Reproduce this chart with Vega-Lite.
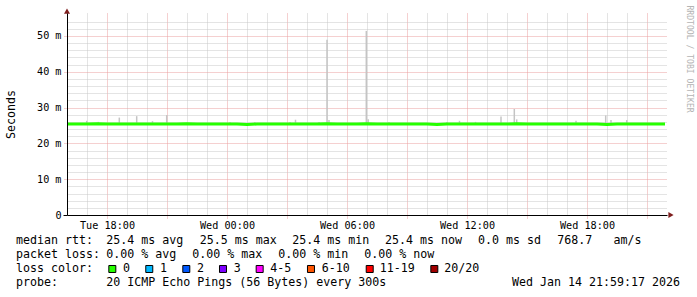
{
  "$schema": "https://vega.github.io/schema/vega-lite/v6.json",
  "width": 600,
  "height": 202,
  "autosize": {"type": "none"},
  "padding": {"left": 67, "top": 13, "right": 30, "bottom": 82},
  "background": "#ffffff",
  "config": {"view": {"stroke": null}, "axis": {"labelFont": "DejaVu Sans Mono", "titleFont": "DejaVu Sans Mono"}},
  "datasets": {
    "median": [
      {"t": 0, "ms": 25.4}, {"t": 0.5, "ms": 25.4}, {"t": 1, "ms": 25.4}, {"t": 1.5, "ms": 25.5}, {"t": 2, "ms": 25.4},
      {"t": 2.5, "ms": 25.4}, {"t": 3, "ms": 25.4}, {"t": 3.5, "ms": 25.4}, {"t": 4, "ms": 25.4}, {"t": 4.5, "ms": 25.4},
      {"t": 5, "ms": 25.4}, {"t": 5.5, "ms": 25.4}, {"t": 6, "ms": 25.5}, {"t": 6.5, "ms": 25.4}, {"t": 7, "ms": 25.4},
      {"t": 7.5, "ms": 25.4}, {"t": 8, "ms": 25.4}, {"t": 8.5, "ms": 25.4}, {"t": 9, "ms": 25.3}, {"t": 9.5, "ms": 25.4},
      {"t": 10, "ms": 25.4}, {"t": 10.5, "ms": 25.4}, {"t": 11, "ms": 25.4}, {"t": 11.5, "ms": 25.4}, {"t": 12, "ms": 25.4},
      {"t": 12.5, "ms": 25.4}, {"t": 13, "ms": 25.5}, {"t": 13.5, "ms": 25.4}, {"t": 14, "ms": 25.4}, {"t": 14.5, "ms": 25.4},
      {"t": 15, "ms": 25.5}, {"t": 15.5, "ms": 25.4}, {"t": 16, "ms": 25.4}, {"t": 16.5, "ms": 25.4}, {"t": 17, "ms": 25.4},
      {"t": 17.5, "ms": 25.4}, {"t": 18, "ms": 25.4}, {"t": 18.5, "ms": 25.3}, {"t": 19, "ms": 25.4}, {"t": 19.5, "ms": 25.4},
      {"t": 20, "ms": 25.4}, {"t": 20.5, "ms": 25.4}, {"t": 21, "ms": 25.4}, {"t": 21.5, "ms": 25.4}, {"t": 22, "ms": 25.4},
      {"t": 22.5, "ms": 25.5}, {"t": 23, "ms": 25.4}, {"t": 23.5, "ms": 25.4}, {"t": 24, "ms": 25.4}, {"t": 24.5, "ms": 25.4},
      {"t": 25, "ms": 25.4}, {"t": 25.5, "ms": 25.4}, {"t": 26, "ms": 25.4}, {"t": 26.5, "ms": 25.4}, {"t": 27, "ms": 25.3},
      {"t": 27.5, "ms": 25.4}, {"t": 28, "ms": 25.4}, {"t": 28.5, "ms": 25.4}, {"t": 29, "ms": 25.4}, {"t": 29.5, "ms": 25.4},
      {"t": 29.9, "ms": 25.4}
    ],
    "smoke": [
      {"t": 0.985, "lo": 25.4, "hi": 26.3}, {"t": 1.565, "lo": 25.4, "hi": 26.0}, {"t": 2.615, "lo": 25.4, "hi": 27.2},
      {"t": 3.485, "lo": 25.4, "hi": 27.6}, {"t": 4.275, "lo": 25.4, "hi": 26.2}, {"t": 4.985, "lo": 25.4, "hi": 27.9},
      {"t": 8.15, "lo": 25.4, "hi": 26.0}, {"t": 9.4, "lo": 25.4, "hi": 26.0}, {"t": 11.15, "lo": 25.4, "hi": 26.0},
      {"t": 11.425, "lo": 25.4, "hi": 26.6}, {"t": 12.6, "lo": 25.4, "hi": 26.0}, {"t": 13.0, "lo": 25.4, "hi": 48.9},
      {"t": 13.1, "lo": 25.4, "hi": 26.5}, {"t": 14.965, "lo": 25.4, "hi": 51.4}, {"t": 15.06, "lo": 25.4, "hi": 26.7},
      {"t": 16.1, "lo": 25.4, "hi": 26.0}, {"t": 19.0, "lo": 25.4, "hi": 26.0}, {"t": 19.625, "lo": 25.4, "hi": 26.3},
      {"t": 20.425, "lo": 25.4, "hi": 26.0}, {"t": 21.7, "lo": 25.4, "hi": 27.5}, {"t": 22.365, "lo": 25.4, "hi": 29.6},
      {"t": 22.485, "lo": 25.4, "hi": 26.7}, {"t": 25.45, "lo": 25.4, "hi": 26.3}, {"t": 26.935, "lo": 25.4, "hi": 27.8},
      {"t": 27.2, "lo": 25.4, "hi": 26.5}, {"t": 27.985, "lo": 25.4, "hi": 26.5}
    ],
    "legendText": [
      {"row": 0, "col": 0, "text": "median rtt:"},
      {"row": 0, "col": 12.9, "text": "25.4 ms avg"},
      {"row": 0, "col": 26.24, "text": "25.5 ms max"},
      {"row": 0, "col": 39.47, "text": "25.4 ms min"},
      {"row": 0, "col": 52.71, "text": "25.4 ms now"},
      {"row": 0, "col": 66.0, "text": "0.0 ms sd"},
      {"row": 0, "col": 77.33, "text": "768.7"},
      {"row": 0, "col": 85.36, "text": "am/s"},
      {"row": 1, "col": 0, "text": "packet loss:"},
      {"row": 1, "col": 12.9, "text": "0.00 % avg"},
      {"row": 1, "col": 25.19, "text": "0.00 % max"},
      {"row": 1, "col": 37.47, "text": "0.00 % min"},
      {"row": 1, "col": 49.76, "text": "0.00 % now"},
      {"row": 2, "col": 0, "text": "loss color:"},
      {"row": 2, "col": 15.29, "text": "0"},
      {"row": 2, "col": 20.57, "text": "1"},
      {"row": 2, "col": 25.86, "text": "2"},
      {"row": 2, "col": 31.1, "text": "3"},
      {"row": 2, "col": 36.33, "text": "4-5"},
      {"row": 2, "col": 43.67, "text": "6-10"},
      {"row": 2, "col": 51.96, "text": "11-19"},
      {"row": 2, "col": 61.19, "text": "20/20"},
      {"row": 3, "col": 0, "text": "probe:"},
      {"row": 3, "col": 12.9, "text": "20 ICMP Echo Pings (56 Bytes) every 300s"},
      {"row": 3, "col": 70.86, "text": "Wed Jan 14 21:59:17 2026"}
    ],
    "lossColors": [
      {"row": 2, "col": 13.76, "loss": "0"},
      {"row": 2, "col": 19.04, "loss": "1"},
      {"row": 2, "col": 24.33, "loss": "2"},
      {"row": 2, "col": 29.57, "loss": "3"},
      {"row": 2, "col": 34.81, "loss": "4-5"},
      {"row": 2, "col": 42.14, "loss": "6-10"},
      {"row": 2, "col": 50.53, "loss": "11-19"},
      {"row": 2, "col": 59.76, "loss": "20/20"}
    ]
  },
  "layer": [
    {
      "layer": [
        {
          "data": {"name": "smoke"},
          "mark": {"type": "rule", "color": "#c4c4c4", "strokeWidth": 1.5},
          "encoding": {
            "x": {"field": "t", "type": "quantitative", "scale": {"domain": [0, 30], "nice": false, "zero": false},
              "axis": {"orient": "bottom", "values": [1, 3, 4, 6, 7, 9, 10, 12, 13, 15, 16, 18, 19, 21, 22, 24, 25, 27, 28], "grid": true, "gridColor": "#c8c8c8", "gridDash": [1, 1], "gridWidth": 1, "domain": false, "labels": false, "ticks": false, "title": null, "zindex": 0}},
            "y": {"field": "lo", "type": "quantitative", "scale": {"domain": [0, 56.4], "nice": false, "zero": false},
              "axis": {"orient": "left", "values": [2, 4, 6, 8, 12, 14, 16, 18, 22, 24, 26, 28, 32, 34, 36, 38, 42, 44, 46, 48, 52, 54], "grid": true, "gridColor": "#c8c8c8", "gridDash": [1, 1], "gridWidth": 1, "domain": false, "labels": false, "ticks": false, "title": null, "zindex": 0}},
            "y2": {"field": "hi"}
          }
        },
        {
          "data": {"name": "median"},
          "mark": {"type": "line", "color": "#26ff00", "strokeWidth": 3},
          "encoding": {
            "x": {"field": "t", "type": "quantitative", "scale": {"domain": [0, 30], "nice": false, "zero": false},
              "axis": {"orient": "bottom", "values": [2, 5, 8, 11, 14, 17, 20, 23, 26, 29], "grid": true, "gridColor": "#eba0a0", "gridDash": [1, 1], "gridWidth": 1, "domain": false, "labels": false, "ticks": true, "tickSize": 3, "tickColor": "#eba0a0", "tickDash": [1, 1], "title": null, "zindex": 0}},
            "y": {"field": "ms", "type": "quantitative", "scale": {"domain": [0, 56.4], "nice": false, "zero": false},
              "axis": {"orient": "left", "values": [10, 20, 30, 40, 50], "grid": true, "gridColor": "#eba0a0", "gridDash": [1, 1], "gridWidth": 1, "domain": false, "labels": false, "ticks": true, "tickSize": 4, "tickColor": "#eba0a0", "tickDash": [1, 1], "title": null, "zindex": 0}}
          }
        },
        {
          "data": {"values": [{}]},
          "mark": {"type": "point", "shape": "triangle-up", "filled": true, "color": "#7f1f1f", "size": 36, "opacity": 1},
          "encoding": {
            "x": {"datum": 0, "type": "quantitative", "scale": {"domain": [0, 30], "nice": false, "zero": false},
              "axis": {"orient": "bottom", "values": [2, 8, 14, 20, 26], "labelExpr": "datum.value == 2 ? 'Tue 18:00' : datum.value == 8 ? 'Wed 00:00' : datum.value == 14 ? 'Wed 06:00' : datum.value == 20 ? 'Wed 12:00' : 'Wed 18:00'", "grid": false, "ticks": false, "tickSize": 0, "labelPadding": 5, "labelFontSize": 10.17, "labelColor": "#000000", "labelFlush": false, "labelOverlap": false, "domain": true, "domainColor": "#000000", "domainWidth": 1, "title": null, "zindex": 1}},
            "y": {"datum": 56.9, "type": "quantitative", "scale": {"domain": [0, 56.4], "nice": false, "zero": false},
              "axis": {"orient": "left", "values": [0, 10, 20, 30, 40, 50], "labelExpr": "datum.value == 0 ? '0\u00a0\u00a0' : datum.value + ' m'", "grid": false, "ticks": true, "tickSize": 4, "tickColor": {"condition": {"test": "datum.value == 0", "value": "#000000"}, "value": "rgba(0,0,0,0)"}, "labelPadding": 2, "labelFontSize": 10.17, "labelColor": "#000000", "labelBaseline": "middle", "labelFlush": false, "labelOverlap": false, "domain": true, "domainColor": "#000000", "domainWidth": 1, "title": "Seconds", "titleX": -56, "titleY": 101, "titleAngle": -90, "titleAlign": "center", "titleBaseline": "middle", "titleFontSize": 11.63, "titleFontWeight": "normal", "titleColor": "#000000", "zindex": 1}}
          }
        },
        {
          "data": {"values": [{}]},
          "mark": {"type": "point", "shape": "triangle-right", "filled": true, "color": "#7f1f1f", "size": 36, "opacity": 1},
          "encoding": {
            "x": {"datum": 30.2, "type": "quantitative", "scale": {"domain": [0, 30], "nice": false, "zero": false}, "axis": null},
            "y": {"datum": 0, "type": "quantitative", "scale": {"domain": [0, 56.4], "nice": false, "zero": false},
              "axis": {"orient": "right", "domain": false, "ticks": false, "labels": false, "grid": false, "title": "RRDTOOL / TOBI OETIKER", "titleX": 21, "titleY": -8, "titleAngle": 90, "titleAlign": "left", "titleBaseline": "middle", "titleFont": "DejaVu Sans Mono", "titleFontSize": 8.1, "titleFontWeight": "normal", "titleColor": "#b4b4b4", "zindex": 1}}
          }
        }
      ],
      "resolve": {"axis": {"x": "independent", "y": "independent"}}
    },
    {
      "layer": [
        {
          "data": {"name": "legendText"},
          "mark": {"type": "text", "align": "left", "baseline": "middle", "font": "DejaVu Sans Mono", "fontSize": 11.63, "color": "#000000"},
          "encoding": {
            "x": {"field": "col", "type": "quantitative", "scale": {"domain": [7.2857, 93], "nice": false, "zero": false}, "axis": null},
            "y": {"field": "row", "type": "quantitative", "scale": {"domain": [-16.2857, -1.8571], "reverse": true, "nice": false, "zero": false}, "axis": null},
            "text": {"field": "text"}
          }
        },
        {
          "data": {"name": "lossColors"},
          "mark": {"type": "square", "size": 49, "filled": true, "stroke": "#000000", "strokeWidth": 1, "opacity": 1},
          "encoding": {
            "x": {"field": "col", "type": "quantitative", "scale": {"domain": [7.2857, 93], "nice": false, "zero": false}, "axis": null},
            "y": {"field": "row", "type": "quantitative", "scale": {"domain": [-16.2857, -1.8571], "reverse": true, "nice": false, "zero": false}, "axis": null},
            "color": {"field": "loss", "type": "nominal", "scale": {"domain": ["0", "1", "2", "3", "4-5", "6-10", "11-19", "20/20"], "range": ["#26ff00", "#00b8ff", "#0059ff", "#7e00ff", "#ff00ff", "#ff5500", "#ff0000", "#a10000"]}, "legend": null}
          }
        }
      ]
    }
  ],
  "resolve": {"scale": {"x": "independent", "y": "independent", "color": "independent"}}
}
